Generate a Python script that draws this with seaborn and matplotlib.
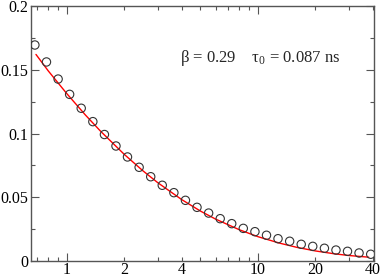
import numpy as np
import pandas as pd
import matplotlib
matplotlib.use("Agg")
import matplotlib.pyplot as plt
import matplotlib.ticker as mticker
import seaborn as sns

# data points (time in ns)
t_data = [0.681, 0.783, 0.901, 1.035, 1.190, 1.369, 1.574, 1.809, 2.078, 2.391,
          2.749, 3.159, 3.634, 4.177, 4.801, 5.523, 6.349, 7.295, 8.385, 9.647,
          11.09, 12.74, 14.66, 16.85, 19.36, 22.28, 25.61, 29.43, 33.82, 38.92]
y_data = [0.1694, 0.1561, 0.1427, 0.1307, 0.1198, 0.1093, 0.0992, 0.0902, 0.0816, 0.0735,
          0.0661, 0.0594, 0.0536, 0.0476, 0.0421, 0.0376, 0.0332, 0.0293, 0.0256, 0.0230,
          0.0202, 0.0175, 0.0155, 0.0131, 0.0115, 0.0100, 0.0086, 0.0076, 0.0063, 0.0053]

# fitted curve
t_fit = [0.69, 0.8, 1, 1.25, 1.5, 2, 2.5, 3, 4, 5, 6, 8, 10, 13, 16, 20, 25, 30, 38]
y_fit = [0.1620, 0.1491, 0.1313, 0.1146, 0.1019, 0.0836, 0.0708, 0.0613, 0.0481, 0.0392,
         0.0329, 0.0245, 0.0191, 0.0140, 0.0107, 0.0079, 0.0057, 0.0043, 0.0030]

x_labels = {1: "1", 2: "2", 4: "4", 10: "10", 20: "20", 40: "40"}
y_ticks = [0, 0.05, 0.1, 0.15, 0.2]
y_tick_labels = ["0", "0.05", "0.1", "0.15", "0.2"]
annotation = r"$\mathregular{\beta}$ = 0.29    $\mathregular{\tau_0}$ = 0.087 ns"

df_data = pd.DataFrame({"t": t_data, "y": y_data})
df_fit = pd.DataFrame({"t": t_fit, "y": y_fit})

sns.set_style("ticks")
plt.rcParams["font.family"] = ["Liberation Serif", "DejaVu Serif"]
plt.rcParams["mathtext.fontset"] = "custom"
plt.rcParams["mathtext.rm"] = "Liberation Serif"
plt.rcParams["mathtext.it"] = "Liberation Serif"

fig = plt.figure(figsize=(3.82, 2.76), dpi=100)
ax = fig.add_axes([0.0812, 0.0543, 0.8979, 0.9240])

sns.lineplot(data=df_fit, x="t", y="y", color="red", linewidth=1.0, ax=ax, zorder=2)
sns.scatterplot(data=df_data, x="t", y="y", marker="o", s=36, facecolor="none",
                edgecolor="#333333", linewidth=0.8, ax=ax, zorder=3)

ax.set_xscale("log")
ax.set_xlim(0.65, 40.5)
ax.set_ylim(0, 0.2)

ax.xaxis.set_major_locator(mticker.FixedLocator([1, 10]))
ax.xaxis.set_minor_locator(mticker.FixedLocator(
    [0.7, 0.8, 0.9, 2, 3, 4, 5, 6, 7, 8, 9, 20, 30, 40]))
ax.xaxis.set_major_formatter(mticker.FuncFormatter(lambda v, p: x_labels.get(round(v), "")))
ax.xaxis.set_minor_formatter(mticker.FuncFormatter(
    lambda v, p: x_labels.get(round(v), "") if abs(v - round(v)) < 1e-6 else ""))

ax.set_yticks(y_ticks)
ax.set_yticklabels(y_tick_labels)
ax.yaxis.set_minor_locator(mticker.MultipleLocator(0.025))

ax.tick_params(which="both", direction="in", top=True, right=True,
               labelsize=11.5, colors="#555555", labelcolor="black", width=0.8)
ax.tick_params(which="major", length=6, pad=2)
ax.tick_params(which="minor", length=3, pad=2)
ax.tick_params(axis="x", which="both", pad=0.5)

for sp in ax.spines.values():
    sp.set_color("#555555")
    sp.set_linewidth(1.0)

ax.set_xlabel("")
ax.set_ylabel("")

ax.text(0.435, 0.797, annotation, transform=ax.transAxes, fontsize=12,
        ha="left", va="center")

fig.savefig("out.png", dpi=100)
